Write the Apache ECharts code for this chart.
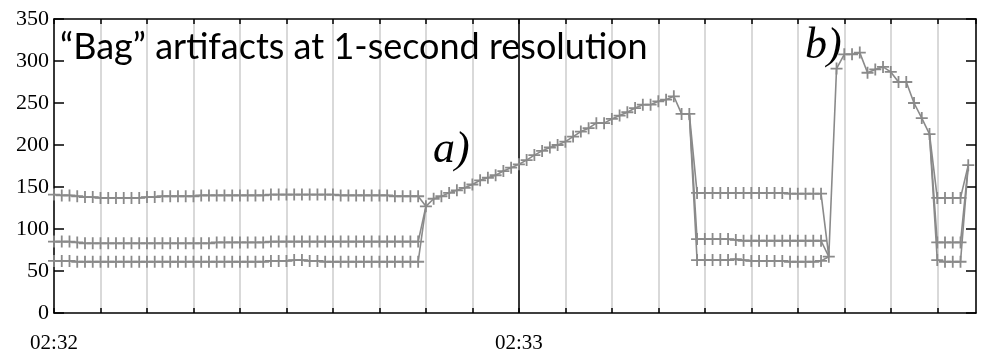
<!DOCTYPE html>
<html>
<head>
<meta charset="utf-8">
<script src="https://cdn.jsdelivr.net/npm/echarts@6/dist/echarts.min.js"></script>
<style>html,body{margin:0;padding:0;background:#fff}#c{width:993px;height:357px}</style>
</head>
<body>
<div id="c"></div>
<script>
// seconds after 02:32 for each segment start
const seg1Start = 0;    // three "bag" lines, t = 0..47
const flatTop1 = [141,140,140,139,138,138,137,137,137,137,137,137,138,138,139,139,139,139,139,140,140,140,140,140,140,140,140,140,141,141,141,141,141,141,141,141,141,140,140,140,140,140,140,140,139,139,139,139];
const flatMid1 = [85,85,85,84,83,83,83,83,83,83,83,83,83,83,83,83,83,83,83,83,83,84,84,84,84,84,84,84,85,85,85,85,85,85,85,85,85,85,85,85,85,85,85,85,85,85,85,85];
const flatBot1 = [62,62,62,61,61,61,61,61,61,61,61,61,61,61,61,61,61,61,61,61,61,61,61,61,61,61,61,61,62,62,62,63,63,62,62,61,61,61,61,61,61,61,61,61,61,61,61,61];
const riseStart = 48;   // merged line a), t = 48..82
const rise = [127,136,139,143,146,149,153,158,161,164,169,173,177,182,188,193,197,200,204,210,216,220,226,226,231,235,239,244,248,248,252,254,258,237,237];
const seg2Start = 83;   // t = 83..99
const flatTop2 = [143,143,143,143,143,143,143,143,143,143,143,143,142,142,142,142,142];
const flatMid2 = [88,88,88,88,88,87,86,86,86,86,86,86,86,86,86,86,86];
const flatBot2 = [63,63,63,63,63,64,63,62,62,62,62,62,61,61,61,61,62];
const dipStart = 100;   // t = 100
const dip = [67];
const peakStart = 101;  // merged line b), t = 101..113
const peakB = [291,308,308,310,286,290,293,287,275,275,250,232,213];
const seg3Start = 114;  // t = 114..117
const flatTop3 = [137,137,137,137];
const flatMid3 = [84,84,84,84];
const flatBot3 = [63,61,61,61];
const lastStart = 118;
const lastVal = [176];

const axisMaxSec = 119;
const tickStepSec = 6;
const minuteSec = 60;
const tickLabelSec = [0, 60];
const tickLabelText = ['02:32', '02:33'];
const yTicks = [0, 50, 100, 150, 200, 250, 300, 350];

function pts(start, arr) { return arr.map((v, i) => [start + i, v]); }
const topLine = [].concat(
  pts(seg1Start, flatTop1), pts(riseStart, rise), pts(seg2Start, flatTop2),
  pts(dipStart, dip), pts(peakStart, peakB), pts(seg3Start, flatTop3), pts(lastStart, lastVal));
function side(f1, f2, f3) {
  const j = (x, v) => ({ value: [x, v], symbol: 'none' });
  const gap = (x) => [x, null];
  return [].concat(
    pts(seg1Start, f1), [j(riseStart, rise[0]), gap(riseStart + 1)],
    [j(seg2Start - 1, rise[rise.length - 1])], pts(seg2Start, f2), [j(dipStart, dip[0]), gap(dipStart + 0.5)],
    [j(seg3Start - 1, peakB[peakB.length - 1])], pts(seg3Start, f3), [j(lastStart, lastVal[0])]);
}
const midLine = side(flatMid1, flatMid2, flatMid3);
const botLine = side(flatBot1, flatBot2, flatBot3);

const plus = 'path://M0,-6L0,6M-6,0L6,0';
const gray = '#8a8a8a';
function lineSeries(name, data, extra) {
  return Object.assign({
    name, type: 'line', data, symbol: plus, symbolSize: 12, showAllSymbol: true,
    connectNulls: false, clip: false, silent: true,
    lineStyle: { color: gray, width: 1.6 },
    itemStyle: { color: gray, borderColor: gray, borderWidth: 1.8 },
    emphasis: { disabled: true }, z: 3
  }, extra || {});
}

const chart = echarts.init(document.getElementById('c'), null, { renderer: 'canvas' });
const serif = '"Liberation Serif", "Times New Roman", serif';
chart.setOption({
  animation: false,
  backgroundColor: '#fff',
  grid: { left: 54, right: 17, top: 19, bottom: 44, containLabel: false },
  xAxis: [{
    type: 'value', min: 0, max: axisMaxSec, interval: tickStepSec, position: 'bottom',
    axisLine: { show: true, onZero: false, lineStyle: { color: '#000', width: 1.5 } },
    axisTick: { show: true, inside: true, length: 5, lineStyle: { color: '#000', width: 1.5 } },
    splitLine: { show: true, lineStyle: { color: '#cccccc', width: 1.5 } },
    axisLabel: {
      show: true, margin: 20, color: '#000', fontFamily: serif, fontSize: 21, showMaxLabel: false,
      formatter: v => { const i = tickLabelSec.indexOf(v); return i >= 0 ? tickLabelText[i] : ''; }
    }
  }, {
    type: 'value', min: 0, max: axisMaxSec, interval: tickStepSec, position: 'top',
    axisLine: { show: true, onZero: false, lineStyle: { color: '#000', width: 1.5 } },
    axisTick: { show: true, inside: true, length: 5, lineStyle: { color: '#000', width: 1.5 } },
    splitLine: { show: false }, axisLabel: { show: false }
  }],
  yAxis: [{
    type: 'value', min: yTicks[0], max: yTicks[yTicks.length - 1], interval: yTicks[1] - yTicks[0], position: 'left',
    axisLine: { show: true, onZero: false, lineStyle: { color: '#000', width: 1.5 } },
    axisTick: { show: true, inside: true, length: 10, lineStyle: { color: '#000', width: 1.5 } },
    splitLine: { show: false },
    axisLabel: { show: true, margin: 5, color: '#000', fontFamily: serif, fontSize: 22 }
  }, {
    type: 'value', min: yTicks[0], max: yTicks[yTicks.length - 1], interval: yTicks[1] - yTicks[0], position: 'right',
    axisLine: { show: true, onZero: false, lineStyle: { color: '#000', width: 1.5 } },
    axisTick: { show: true, inside: true, length: 10, lineStyle: { color: '#000', width: 1.5 } },
    splitLine: { show: false }, axisLabel: { show: false }
  }],
  series: [
    lineSeries('top', topLine, {
      markLine: {
        silent: true, symbol: 'none', label: { show: false }, animation: false,
        lineStyle: { color: '#000', width: 1.5, type: 'solid' },
        data: [{ xAxis: minuteSec }], z: 2
      }
    }),
    lineSeries('mid', midLine),
    lineSeries('bot', botLine)
  ],
  graphic: [
    { type: 'text', left: 60, top: 29, z: 10, style: { text: '\u201cBag\u201d artifacts at 1-second resolution', font: '36px Lato', fill: '#000' } },
    { type: 'text', left: 433, top: 128, z: 10, style: { text: 'a)', font: 'italic 44px "Liberation Serif"', fill: '#000' } },
    { type: 'text', left: 805, top: 24, z: 10, style: { text: 'b)', font: 'italic 44px "Liberation Serif"', fill: '#000' } }
  ]
});
</script>
</body>
</html>
